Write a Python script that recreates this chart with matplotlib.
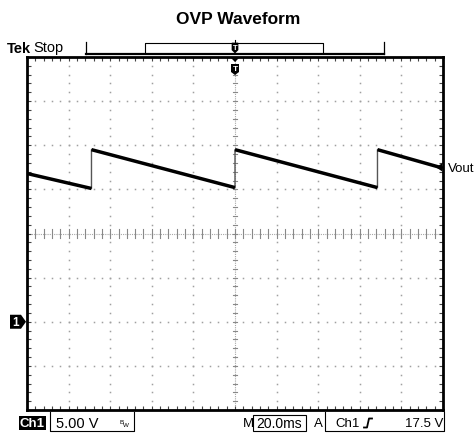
import matplotlib
matplotlib.use("Agg")
import matplotlib.pyplot as plt
from matplotlib.patches import Polygon, Rectangle
import numpy as np

title = "OVP Waveform"
time_ms = [-100, -69, -69, 0, 0, 68.5, 68.5, 100]          # trace time points (ms)
volts   = [16.8, 15.1, 19.5, 15.2, 19.5, 15.2, 19.5, 17.4]  # trace voltage (V)
trigger_level = 17.5      # V
ground_level = 0.0        # V
volts_per_div = 5.0
ms_per_div = 20.0
status_ch = "Ch1"
status_scale = "5.00 V"
status_time = "20.0ms"
status_trig_src = "Ch1"
status_trig_lvl = "17.5 V"
trace_label = "Vout"

W, H = 476, 435
fig = plt.figure(figsize=(W / 100, H / 100), dpi=100)
fig.patch.set_facecolor("white")
plt.rcParams['font.family'] = ['Liberation Sans', 'DejaVu Sans']

# main screen axes (10 x 8 divisions)
L, R, T, B = 27, 443, 58, 411
ax = fig.add_axes([L / W, (H - B) / H, (R - L) / W, (B - T) / H])
xmin, xmax = -5 * ms_per_div, 5 * ms_per_div
ymin, ymax = ground_level - 2 * volts_per_div, ground_level + 6 * volts_per_div
ax.set_xlim(xmin, xmax)
ax.set_ylim(ymin, ymax)
ax.set_xticks(np.arange(xmin, xmax + 0.1, ms_per_div))
ax.set_xticks(np.arange(xmin, xmax + 0.1, ms_per_div / 5), minor=True)
ax.set_yticks(np.arange(ymin, ymax + 0.1, volts_per_div))
ax.set_yticks(np.arange(ymin, ymax + 0.1, volts_per_div / 5), minor=True)
ax.tick_params(which="both", direction="in", top=True, right=True,
               labelbottom=False, labelleft=False, length=3, width=0.8,
               color="#444444")
for s in ax.spines.values():
    s.set_linewidth(2.0)
    s.set_color("black")

xc = (xmin + xmax) / 2
yc = (ymin + ymax) / 2
xs_major = np.arange(xmin + ms_per_div, xmax, ms_per_div)
ys_major = np.arange(ymin + volts_per_div, ymax, volts_per_div)
xs_minor = np.arange(xmin, xmax + 0.1, ms_per_div / 5)
ys_minor = np.arange(ymin, ymax + 0.1, volts_per_div / 5)

# dotted graticule
for x in xs_major:
    if abs(x - xc) < 1e-6:
        continue
    ax.plot(np.full_like(ys_minor, x), ys_minor, ls="none", marker="s",
            ms=1.1, mec="none", mfc="#a0a0a0", zorder=1)
for y in ys_major:
    if abs(y - yc) < 1e-6:
        continue
    ax.plot(xs_minor, np.full_like(xs_minor, y), ls="none", marker="s",
            ms=1.1, mec="none", mfc="#a0a0a0", zorder=1)

# center cross with ticks
ax.axhline(yc, color="#a8a8a8", lw=0.8, ls=(0, (1, 1)), zorder=1)
ax.axvline(xc, color="#a8a8a8", lw=0.8, ls=(0, (1, 1)), zorder=1)
tx = 0.012 * (ymax - ymin)
ty = 0.0055 * (xmax - xmin)
for x in xs_minor:
    ax.plot([x, x], [yc - tx, yc + tx], color="#888888", lw=0.8, zorder=1)
for y in ys_minor:
    ax.plot([xc - ty, xc + ty], [y, y], color="#888888", lw=0.8, zorder=1)

# trace: thin edges, thick ramps
ax.plot(time_ms, volts, color="#555555", lw=1.0, zorder=3)
for i in range(len(time_ms) - 1):
    if time_ms[i + 1] != time_ms[i]:
        ax.plot(time_ms[i:i + 2], volts[i:i + 2], color="black", lw=2.5,
                solid_capstyle="butt", zorder=4)

# ---------------- overlay in pixel coordinates ----------------
ov = fig.add_axes([0, 0, 1, 1], zorder=5)
ov.set_xlim(0, W)
ov.set_ylim(H, 0)
ov.axis("off")
ov.patch.set_alpha(0)


def to_px(x, y):
    dx, dy = ax.transData.transform((x, y))
    return dx, H - dy


# title
ov.text(238, 19, title, ha="center", va="center", fontsize=12.5,
        fontweight="bold")

# top record bar
ov.text(7, 49, "Tek", ha="left", va="center", fontsize=10.5,
        fontweight="bold")
ov.text(33, 48, "Stop", ha="left", va="center", fontsize=10.5)
ov.plot([86, 384], [55, 55], color="black", lw=1.6)
ov.plot([86, 86], [43, 55], color="black", lw=0.9)
ov.plot([384, 384], [43, 55], color="black", lw=0.9)
ov.plot([145, 145, 323, 323], [54, 44, 44, 54], color="black", lw=0.8)
tpx, _ = to_px(xc, ymax)
ov.plot([tpx, tpx], [41, 44], color="black", lw=0.8)
ov.add_patch(Polygon([[tpx - 3, 44], [tpx + 3, 44], [tpx + 3, 51],
                      [tpx, 54], [tpx - 3, 51]], closed=True,
                     fc="black", ec="black", lw=0.5))
ov.text(tpx, 48.5, "T", color="white", ha="center", va="center",
        fontsize=5.5, fontweight="bold")
# trigger position marker below frame top
ov.add_patch(Polygon([[tpx - 4, T + 1], [tpx + 4, T + 1], [tpx, T + 5]],
                     closed=True, fc="black", ec="none"))
ov.add_patch(Polygon([[tpx - 4, T + 7], [tpx + 4, T + 7], [tpx + 4, T + 15],
                      [tpx, T + 18], [tpx - 4, T + 15]], closed=True,
                     fc="black", ec="none"))
ov.text(tpx, T + 11.5, "T", color="white", ha="center", va="center",
        fontsize=6, fontweight="bold")

# ground marker
_, gpy = to_px(xmin, ground_level)
ov.add_patch(Polygon([[10, gpy - 7], [21, gpy - 7], [26, gpy],
                      [21, gpy + 7], [10, gpy + 7]], closed=True,
                     fc="black", ec="none"))
ov.text(16, gpy + 0.5, "1", color="white", ha="center", va="center",
        fontsize=8.5, fontweight="bold")

# trigger level marker + label
_, tly = to_px(xmax, trigger_level)
ov.add_patch(Polygon([[R - 7, tly], [R - 1, tly - 4], [R - 1, tly + 4]],
                     closed=True, fc="black", ec="none"))
ov.text(R + 5, tly + 1, trace_label, ha="left", va="center", fontsize=9.5)

# status bar
sy = 424
fs = 9.5
ov.add_patch(Rectangle((19, 417), 27, 14, fc="black", ec="none"))
ov.text(32.5, sy, status_ch, color="white", ha="center", va="center",
        fontsize=fs, fontweight="bold")
ov.plot([50, 50, 134, 134], [413, 432, 432, 413], color="black", lw=0.8)
ov.text(56, sy, status_scale, ha="left", va="center", fontsize=10.5)
ov.text(120, sy - 1, "B", ha="left", va="center", fontsize=4.5)
ov.text(123, sy + 2, "W", ha="left", va="center", fontsize=4.5)
ov.text(243, sy, "M", ha="left", va="center", fontsize=fs)
ov.add_patch(Rectangle((253, 416), 53, 16, fc="none", ec="black", lw=0.8))
ov.text(279.5, sy, status_time, ha="center", va="center", fontsize=10)
ov.text(314, sy, "A", ha="left", va="center", fontsize=fs)
ov.plot([325, 325, 444, 444], [413, 432, 432, 413], color="black", lw=0.8)
ov.text(335, sy, status_trig_src, ha="left", va="center", fontsize=fs)
ov.plot([364, 367, 369, 372], [428.5, 428.5, 419.5, 419.5], color="black",
        lw=1.3)
ov.text(443, sy, status_trig_lvl, ha="right", va="center", fontsize=fs)

fig.savefig("out.png", dpi=100, facecolor="white")
